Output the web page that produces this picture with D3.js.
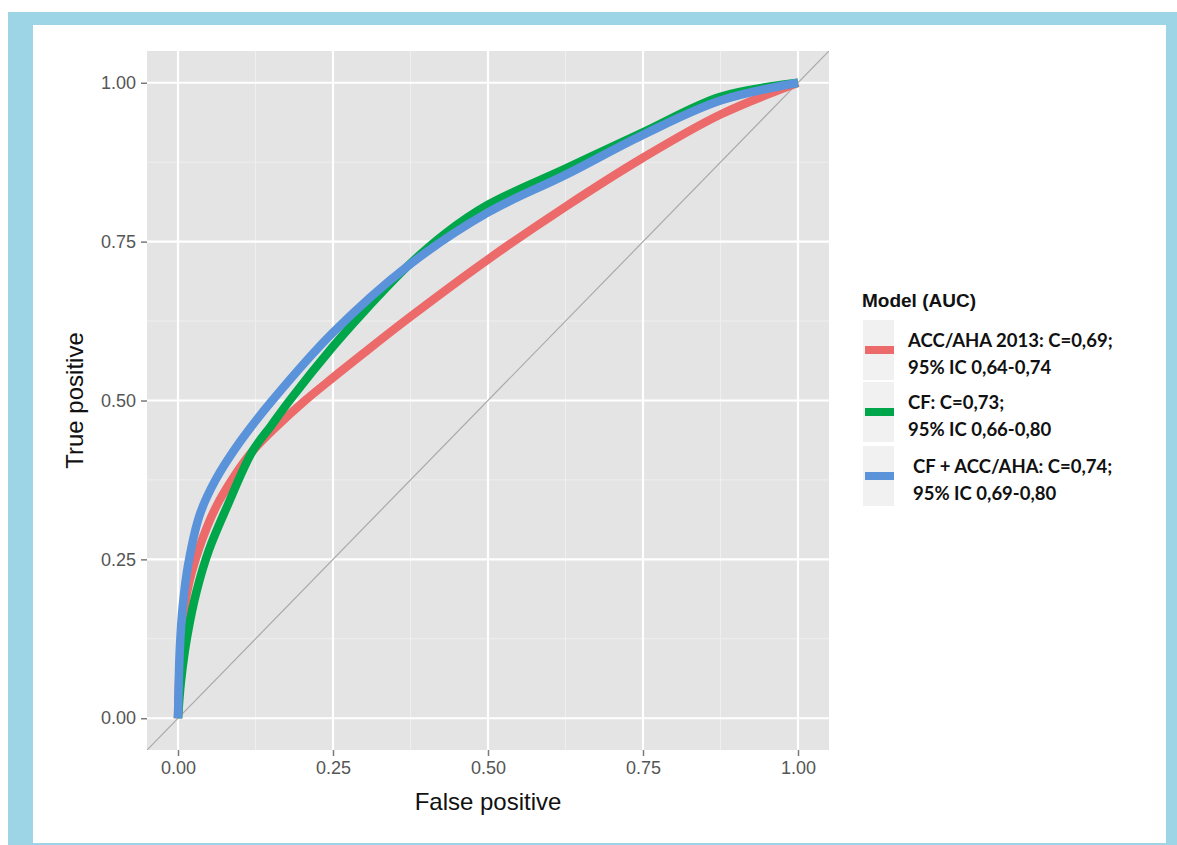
<!DOCTYPE html>
<html>
<head>
<meta charset="utf-8">
<script src="https://cdn.jsdelivr.net/npm/d3@7"></script>
<style>
  html, body { margin: 0; padding: 0; background: #ffffff; }
  svg { display: block; }
</style>
</head>
<body>
<script>
// ---- data (false positive rate, true positive rate) ----
const accFpr = [0, 0.004, 0.015, 0.035, 0.06, 0.09, 0.12, 0.16, 0.205, 0.25, 0.30, 0.375, 0.50, 0.625, 0.75, 0.875, 1];
const accTpr = [0, 0.10, 0.20, 0.27, 0.33, 0.38, 0.42, 0.46, 0.50, 0.536, 0.575, 0.632, 0.722, 0.805, 0.882, 0.950, 1];

const cfFpr = [0, 0.005, 0.015, 0.03, 0.05, 0.08, 0.12, 0.15, 0.18, 0.25, 0.30, 0.371, 0.43, 0.50, 0.625, 0.75, 0.875, 1];
const cfTpr = [0, 0.06, 0.13, 0.20, 0.265, 0.335, 0.42, 0.46, 0.50, 0.585, 0.64, 0.712, 0.762, 0.808, 0.865, 0.922, 0.978, 1];

const bothFpr = [0, 0.003, 0.008, 0.017, 0.035, 0.06, 0.10, 0.152, 0.25, 0.371, 0.50, 0.625, 0.75, 0.875, 1];
const bothTpr = [0, 0.11, 0.18, 0.245, 0.32, 0.374, 0.435, 0.50, 0.607, 0.712, 0.796, 0.855, 0.918, 0.972, 1];

const seriesNames = ["ACC/AHA 2013", "CF", "CF + ACC/AHA"];
const legendLines = [
  ["ACC/AHA 2013: C=0,69;", "95% IC 0,64-0,74"],
  ["CF: C=0,73;", "95% IC 0,66-0,80"],
  ["CF + ACC/AHA: C=0,74;", "95% IC 0,69-0,80"]
];
const legendTitle = "Model (AUC)";
const majorTicks = [0, 0.25, 0.5, 0.75, 1];
const minorTicks = [0.125, 0.375, 0.625, 0.875];
const xTitle = "False positive";
const yTitle = "True positive";

// ---- styles ----
const colors = ["#ec6a6a", "#00a64a", "#5b93da"];
const W = 1177, H = 845;

const svg = d3.select("body").append("svg").attr("width", W).attr("height", H);

// frame
svg.append("rect").attr("x", 8).attr("y", 12).attr("width", W - 8).attr("height", H - 12).attr("fill", "#9dd5e6");
svg.append("rect").attr("x", 33).attr("y", 25).attr("width", 1166 - 33).attr("height", 843 - 25).attr("fill", "#ffffff");

const x = d3.scaleLinear().domain([-0.05, 1.05]).range([147, 829]);
const y = d3.scaleLinear().domain([-0.05, 1.05]).range([750, 51]);

// panel
svg.append("rect").attr("x", x(-0.05)).attr("y", y(1.05))
  .attr("width", x(1.05) - x(-0.05)).attr("height", y(-0.05) - y(1.05)).attr("fill", "#e4e4e4");

svg.append("defs").append("clipPath").attr("id", "clip")
  .append("rect").attr("x", x(-0.05)).attr("y", y(1.05))
  .attr("width", x(1.05) - x(-0.05)).attr("height", y(-0.05) - y(1.05));

const grid = svg.append("g");
grid.selectAll(".vmin").data(minorTicks).join("line")
  .attr("x1", d => x(d)).attr("x2", d => x(d)).attr("y1", y(-0.05)).attr("y2", y(1.05))
  .attr("stroke", "#efefef").attr("stroke-width", 1);
grid.selectAll(".hmin").data(minorTicks).join("line")
  .attr("y1", d => y(d)).attr("y2", d => y(d)).attr("x1", x(-0.05)).attr("x2", x(1.05))
  .attr("stroke", "#efefef").attr("stroke-width", 1);
grid.selectAll(".vmaj").data(majorTicks).join("line")
  .attr("x1", d => x(d)).attr("x2", d => x(d)).attr("y1", y(-0.05)).attr("y2", y(1.05))
  .attr("stroke", "#ffffff").attr("stroke-width", 2.2);
grid.selectAll(".hmaj").data(majorTicks).join("line")
  .attr("y1", d => y(d)).attr("y2", d => y(d)).attr("x1", x(-0.05)).attr("x2", x(1.05))
  .attr("stroke", "#ffffff").attr("stroke-width", 2.2);

// plot content
const plot = svg.append("g").attr("clip-path", "url(#clip)");
plot.append("line")
  .attr("x1", x(-0.05)).attr("y1", y(-0.05)).attr("x2", x(1.05)).attr("y2", y(1.05))
  .attr("stroke", "#a9a9a9").attr("stroke-width", 1.2);

const line = d3.line().x(d => x(d[0])).y(d => y(d[1])).curve(d3.curveCatmullRom.alpha(0.5));
const series = [
  d3.zip(accFpr, accTpr),
  d3.zip(cfFpr, cfTpr),
  d3.zip(bothFpr, bothTpr)
];
series.forEach((s, i) => {
  plot.append("path").datum(s).attr("d", line)
    .attr("fill", "none").attr("stroke", colors[i]).attr("stroke-width", 8.5)
    .attr("stroke-linejoin", "round");
});

// axes
const fmt = d3.format(".2f");
const xAxis = svg.append("g").attr("transform", `translate(0,${y(-0.05)})`)
  .call(d3.axisBottom(x).tickValues(majorTicks).tickFormat(fmt).tickSize(6).tickPadding(5));
const yAxis = svg.append("g").attr("transform", `translate(${x(-0.05)},0)`)
  .call(d3.axisLeft(y).tickValues(majorTicks).tickFormat(fmt).tickSize(6).tickPadding(5));
[xAxis, yAxis].forEach(a => {
  a.select(".domain").remove();
  a.selectAll(".tick line").attr("stroke", "#7a7a7a").attr("stroke-width", 1.5);
  a.selectAll(".tick text").attr("fill", "#555555")
    .style("font-family", "'Liberation Sans', Arial, sans-serif").style("font-size", "18px");
});

svg.append("text").attr("x", x(0.5)).attr("y", 810).attr("text-anchor", "middle")
  .style("font-family", "'Liberation Sans', Arial, sans-serif").style("font-size", "24px")
  .attr("fill", "#111").text(xTitle);
svg.append("text").attr("transform", `translate(83,${y(0.5)}) rotate(-90)`).attr("text-anchor", "middle")
  .style("font-family", "'Liberation Sans', Arial, sans-serif").style("font-size", "24px")
  .attr("fill", "#111").text(yTitle);

// legend
const lg = svg.append("g");
lg.append("text").attr("x", 862).attr("y", 307)
  .style("font-family", "'Liberation Sans', Arial, sans-serif").style("font-size", "19px").style("font-weight", "bold")
  .attr("fill", "#111").text(legendTitle);
const keyTops = [320, 382, 446];
const keyH = 60;
seriesNames.forEach((name, i) => {
  const g = lg.append("g");
  g.append("rect").attr("x", 863).attr("y", keyTops[i]).attr("width", 31).attr("height", keyH).attr("fill", "#f1f1f1");
  g.append("line").attr("x1", 865).attr("x2", 894)
    .attr("y1", keyTops[i] + keyH / 2).attr("y2", keyTops[i] + keyH / 2)
    .attr("stroke", colors[i]).attr("stroke-width", 8);
  legendLines[i].forEach((t, j) => {
    g.append("text").attr("x", i === 2 ? 913 : 908).attr("y", keyTops[i] + 27 + j * 27)
      .style("font-family", "Lato, 'Open Sans', sans-serif").style("font-size", "18.5px").style("font-weight", "bold")
      .attr("fill", "#111").text(t);
  });
});
</script>
</body>
</html>
